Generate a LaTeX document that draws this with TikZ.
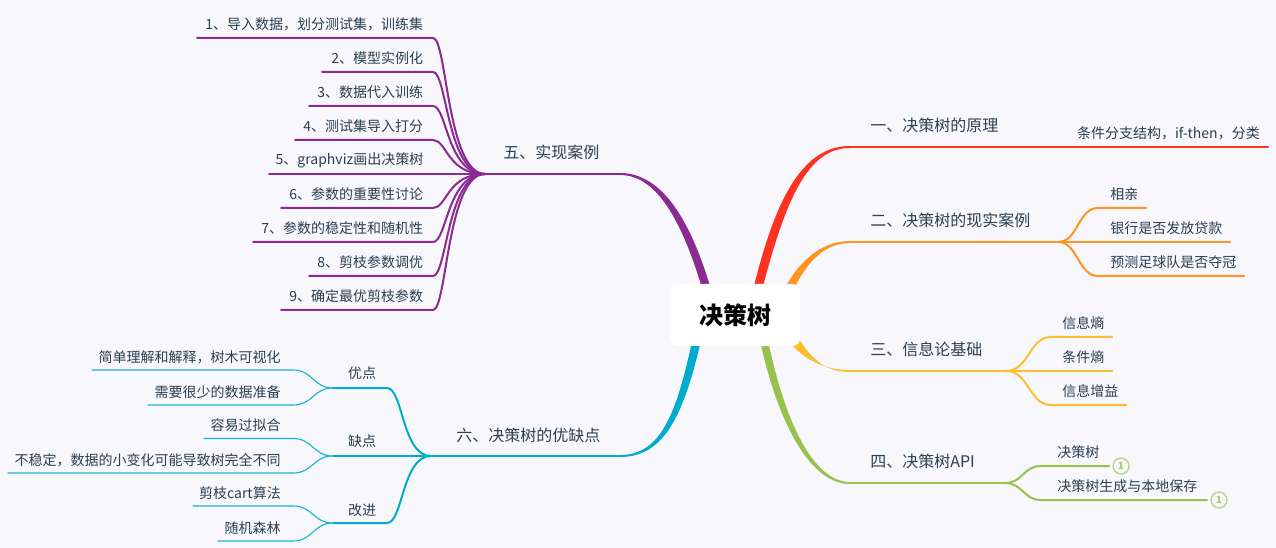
\documentclass[tikz,border=0pt]{standalone}
\usepackage{fontspec}
\setmainfont{Noto Sans CJK SC}
\definecolor{bgc}{HTML}{F7F7FC}
\definecolor{txtc}{HTML}{2B3F50}
\definecolor{redc}{HTML}{FF3222}
\definecolor{orac}{HTML}{FF9420}
\definecolor{yelc}{HTML}{FFBE2E}
\definecolor{grnc}{HTML}{98C24E}
\definecolor{purc}{HTML}{8B2A90}
\definecolor{bluc}{HTML}{00ABD0}
\tikzset{
  lbl/.style={inner sep=0pt,text=txtc,font=\fontsize{10.5pt}{12pt}\selectfont},
  mainlbl/.style={inner sep=0pt,text=txtc,font=\fontsize{12pt}{14pt}\selectfont},
  edge/.style={line width=1.5pt,line cap=round},
  thin edge/.style={line width=0.85pt,line cap=round},
  badge/.style={circle,draw=grnc!70!white,line width=1pt,fill=bgc,minimum size=12pt,inner sep=0pt,text=grnc!85!white,font=\bfseries\fontsize{7.5pt}{8pt}\selectfont}
}
% left-hand leaf of branch five
\newcommand{\pleaf}[4]{%
  \node[lbl,anchor=east] (#1) at (423.5,#2-14) {#4};
  \coordinate (#1e) at (433,#2);
  \coordinate (#1w) at (#3,#2);
  \draw[edge,purc] (h5) .. controls (447,174) and (447,#2) .. (#1e) -- (#1w);
}
% leaf of branch six: name, hub, hub y, line y, left end, text
\newcommand{\bleaf}[6]{%
  \node[lbl,anchor=east] (#1) at (281,#4-13) {#6};
  \coordinate (#1e) at (293,#4);
  \coordinate (#1w) at (#5,#4);
  \draw[thin edge,bluc!90!white] (#2) .. controls (313,#3) and (313,#4) .. (#1e) -- (#1w);
}
\begin{document}
\begin{tikzpicture}[x=0.75pt,y=-0.75pt]
\useasboundingbox (0,0) rectangle (1276,548);
\fill[bgc] (0,0) rectangle (1276,548);

% ---------- limbs from the root
\coordinate (r1) at (850,147);
\coordinate (r2) at (850,242);
\coordinate (r3) at (850,371);
\coordinate (r4) at (850,483);
\coordinate (r5) at (620,174);
\coordinate (r6) at (620,456);
\fill[redc] (753,290) .. controls (776,195) and (804,146) .. (850,146) -- (850,148) .. controls (808,148) and (786,198) .. (762,290) -- cycle;
\fill[orac] (781.5,295) .. controls (796,263.5) and (820,241) .. (850,241) -- (850,243) .. controls (822,243) and (804,266) .. (791,295) -- cycle;
\fill[yelc] (785,337) .. controls (801,358) and (822,370) .. (850,370) -- (850,372) .. controls (820,372) and (808,353) .. (795,333) -- cycle;
\fill[grnc] (758,330) .. controls (771,400) and (803,484) .. (850,484) -- (850,482) .. controls (807,482) and (779,400) .. (766,330) -- cycle;
\fill[purc] (714,300) .. controls (692,220) and (662,173) .. (620,173) -- (620,175) .. controls (658,175) and (684,224) .. (705.5,300) -- cycle;
\fill[bluc] (704.5,325) .. controls (686,410) and (667,457) .. (620,457) -- (620,455) .. controls (663,455) and (678,410) .. (695.5,325) -- cycle;

% ---------- root
\node[fill=white,rounded corners=5.5pt,minimum width=97.5pt,minimum height=46.5pt,inner sep=0pt,text=black,font=\bfseries\fontsize{18pt}{20pt}\selectfont] (root) at (735,315) {决策树};

% ---------- branch one
\node[mainlbl,anchor=west] (m1) at (870,125) {一、决策树的原理};
\node[lbl,anchor=east] (a1) at (1260,133) {条件分支结构，if-then，分类};
\coordinate (a1e) at (1268,147);
\draw[edge,redc] (r1) -- (a1e);

% ---------- branch two
\node[mainlbl,anchor=west] (m2) at (870,220) {二、决策树的现实案例};
\coordinate (h2) at (1058,242);
\draw[edge,orac] (r2) -- (h2);
\node[lbl,anchor=west] (b1) at (1110,194) {相亲};
\node[lbl,anchor=west] (b2) at (1110,228) {银行是否发放贷款};
\node[lbl,anchor=west] (b3) at (1110,262) {预测足球队是否夺冠};
\coordinate (b1s) at (1098,208); \coordinate (b1t) at (1146,208);
\coordinate (b2t) at (1230,242);
\coordinate (b3s) at (1098,276); \coordinate (b3t) at (1244,276);
\draw[edge,orac] (h2) .. controls (1078,242) and (1078,208) .. (b1s) -- (b1t);
\draw[edge,orac] (h2) -- (b2t);
\draw[edge,orac] (h2) .. controls (1078,242) and (1078,276) .. (b3s) -- (b3t);

% ---------- branch three
\node[mainlbl,anchor=west] (m3) at (870,349) {三、信息论基础};
\coordinate (h3) at (1006,371);
\draw[edge,yelc] (r3) -- (h3);
\node[lbl,anchor=west] (c1) at (1062,323) {信息熵};
\node[lbl,anchor=west] (c2) at (1062,357) {条件熵};
\node[lbl,anchor=west] (c3) at (1062,391) {信息增益};
\coordinate (c1s) at (1051,337); \coordinate (c1t) at (1112,337);
\coordinate (c2t) at (1112,371);
\coordinate (c3s) at (1051,405); \coordinate (c3t) at (1126,405);
\draw[edge,yelc] (h3) .. controls (1029,371) and (1029,337) .. (c1s) -- (c1t);
\draw[edge,yelc] (h3) -- (c2t);
\draw[edge,yelc] (h3) .. controls (1029,371) and (1029,405) .. (c3s) -- (c3t);

% ---------- branch four
\node[mainlbl,anchor=west] (m4) at (870,461) {四、决策树API};
\coordinate (h4) at (1005,483);
\draw[edge,grnc] (r4) -- (h4);
\node[lbl,anchor=west] (d1) at (1057,452) {决策树};
\node[lbl,anchor=west] (d2) at (1057,486) {决策树生成与本地保存};
\node[badge] (n1) at (1121,466) {1};
\node[badge] (n2) at (1219,500) {1};
\coordinate (d1s) at (1041,466);
\coordinate (d2s) at (1041,500);
\draw[edge,grnc,shorten >=2.5pt] (h4) .. controls (1023,483) and (1023,466) .. (d1s) -- (n1.west);
\draw[edge,grnc,shorten >=2.5pt] (h4) .. controls (1023,483) and (1023,500) .. (d2s) -- (n2.west);

% ---------- branch five
\node[mainlbl,anchor=west] (m5) at (503,152) {五、实现案例};
\coordinate (h5) at (485,174);
\draw[edge,purc] (r5) -- (h5);
\pleaf{e1}{38}{197}{1、导入数据，划分测试集，训练集}
\pleaf{e2}{72}{322}{2、模型实例化}
\pleaf{e3}{106}{309}{3、数据代入训练}
\pleaf{e4}{140}{295}{4、测试集导入打分}
\pleaf{e5}{174}{269}{5、graphviz画出决策树}
\pleaf{e6}{208}{281}{6、参数的重要性讨论}
\pleaf{e7}{242}{253}{7、参数的稳定性和随机性}
\pleaf{e8}{276}{309}{8、剪枝参数调优}
\pleaf{e9}{310}{281}{9、确定最优剪枝参数}

% ---------- branch six
\node[mainlbl,anchor=west] (m6) at (456,435) {六、决策树的优缺点};
\coordinate (h6) at (431,456);
\draw[edge,bluc] (r6) -- (h6);
\coordinate (g1) at (333,388);
\coordinate (g2) at (333,456);
\coordinate (g3) at (333,523);
\coordinate (g1s) at (387,388);
\coordinate (g3s) at (387,523);
\draw[edge,bluc] (h6) .. controls (402,456) and (403,388) .. (g1s) -- (g1);
\draw[edge,bluc] (h6) -- (g2);
\draw[edge,bluc] (h6) .. controls (402,456) and (403,523) .. (g3s) -- (g3);
\node[lbl] (f1) at (362,373.5) {优点};
\node[lbl] (f2) at (362,441.5) {缺点};
\node[lbl] (f3) at (362,510.5) {改进};
\bleaf{k1}{g1}{388}{370}{92}{简单理解和解释，树木可视化}
\bleaf{k2}{g1}{388}{405}{148}{需要很少的数据准备}
\bleaf{k3}{g2}{456}{438.5}{204}{容易过拟合}
\bleaf{k4}{g2}{456}{473}{8}{不稳定，数据的小变化可能导致树完全不同}
\bleaf{k5}{g3}{523}{506}{193}{剪枝cart算法}
\bleaf{k6}{g3}{523}{541}{218}{随机森林}
\end{tikzpicture}
\end{document}
